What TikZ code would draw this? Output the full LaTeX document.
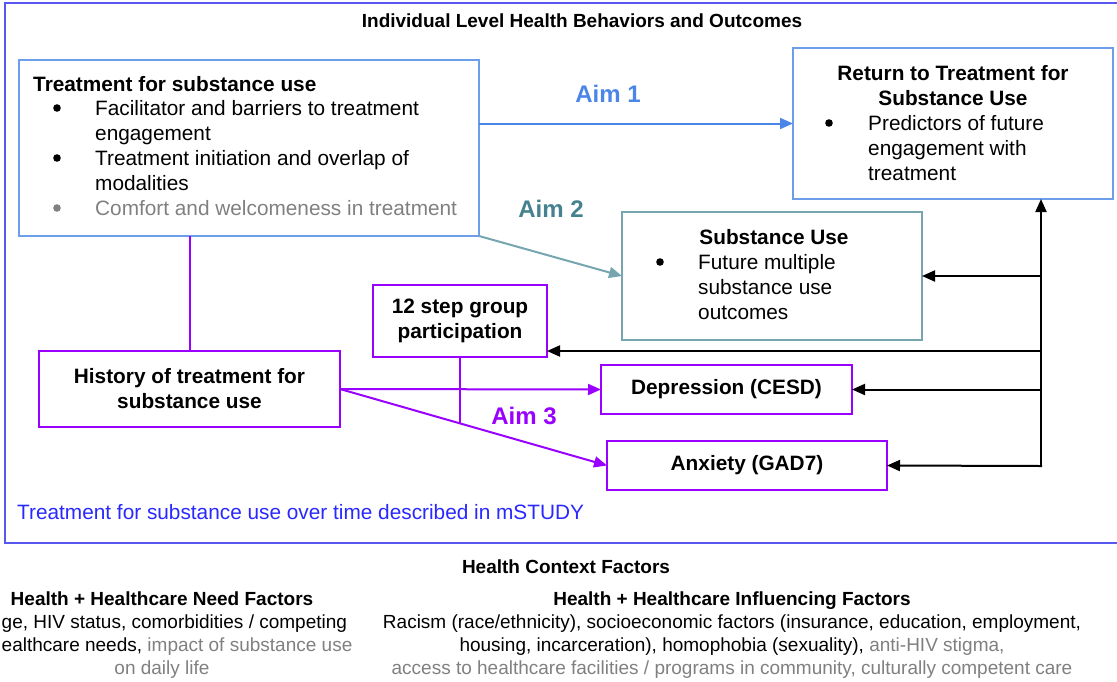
\documentclass[tikz,border=0pt]{standalone}
\usepackage{fontspec}
\setmainfont{Liberation Sans}
\usetikzlibrary{arrows.meta,calc}
\definecolor{frameblue}{RGB}{88,88,240}
\definecolor{boxblue}{RGB}{109,158,235}
\definecolor{aimblue}{RGB}{74,134,232}
\definecolor{tealline}{RGB}{118,165,175}
\definecolor{tealtext}{RGB}{69,129,142}
\definecolor{purp}{RGB}{153,0,255}
\definecolor{textblue}{RGB}{40,40,255}
\definecolor{greytext}{RGB}{128,128,128}
\begin{document}
\begin{tikzpicture}[x=1pt,y=-1pt,
  box/.style={draw, line width=1.3pt, inner sep=0pt, outer sep=0pt},
  boxtxt/.style={font=\fontsize{20.8}{25}\selectfont\bfseries, align=center},
  txt/.style={font=\fontsize{20.8}{25}\selectfont, anchor=base west, inner sep=0pt},
  ttl/.style={font=\fontsize{20.8}{25}\selectfont\bfseries, anchor=base, inner sep=0pt},
  head/.style={font=\fontsize{19}{23}\selectfont\bfseries, anchor=base, inner sep=0pt},
  foot/.style={font=\fontsize{19}{23}\selectfont, inner sep=0pt},
  aim/.style={font=\fontsize{24}{28}\selectfont\bfseries, inner sep=0pt},
  arr/.style={-{Triangle[length=13pt,width=11pt]}, line width=2pt},
  link/.style={line width=2pt},
  bul/.style={radius=3.8pt}
]
\useasboundingbox (0,0) rectangle (1117,681);

% outer frame
\draw[frameblue, line width=1.5pt] (5,3) rectangle (1130,543);
\node[head] (t1) at (582,27) {Individual Level Health Behaviors and Outcomes};

% Box A
\node[box, draw=boxblue, minimum width=460pt, minimum height=176pt] (A) at (249,148) {};
\node[txt, font=\fontsize{20.8}{25}\selectfont\bfseries] (a0) at (33,91) {Treatment for substance use};
\fill (57,108) circle[bul];
\node[txt] (a1) at (95,115) {Facilitator and barriers to treatment};
\node[txt] (a2) at (95,140) {engagement};
\fill (57,158) circle[bul];
\node[txt] (a3) at (95,165) {Treatment initiation and overlap of};
\node[txt] (a4) at (95,190) {modalities};
\fill[greytext] (57,208) circle[bul];
\node[txt, text=greytext] (a5) at (95,215) {Comfort and welcomeness in treatment};

% Box B
\node[box, draw=boxblue, minimum width=320pt, minimum height=151pt] (B) at (953,123.5) {};
\node[ttl] (b0) at (953,80) {Return to Treatment for};
\node[ttl] (b1) at (953,105) {Substance Use};
\fill (829,123) circle[bul];
\node[txt] (b2) at (868,130) {Predictors of future};
\node[txt] (b3) at (868,155) {engagement with};
\node[txt] (b4) at (868,180) {treatment};

% Box C
\node[box, draw=tealline, minimum width=300pt, minimum height=128pt] (C) at (772,276) {};
\node[ttl] (c0) at (774,244) {Substance Use};
\fill (660,262) circle[bul];
\node[txt] (c1) at (698,269) {Future multiple};
\node[txt] (c2) at (698,294) {substance use};
\node[txt] (c3) at (698,319) {outcomes};

% Purple boxes
\node[box, draw=purp, boxtxt, minimum width=174pt, minimum height=72pt] (D) at (460,321) {12 step group\\participation};
\node[box, draw=purp, boxtxt, minimum width=301pt, minimum height=76pt] (E) at (189.5,389) {History of treatment for\\substance use};
\node[box, draw=purp, boxtxt, minimum width=251pt, minimum height=49pt] (F) at (726.5,389.5) {Depression (CESD)};
\node[box, draw=purp, boxtxt, minimum width=280pt, minimum height=49pt] (G) at (747,465.5) {Anxiety (GAD7)};

% Aim labels
\node[aim, text=aimblue] (aim1) at (608,94) {Aim 1};
\node[aim, text=tealtext] (aim2) at (551,209) {Aim 2};
\node[aim, text=purp] (aim3) at (524,416) {Aim 3};

% connectors
\draw[arr, aimblue] (A.east |- B.west) -- (B.west);
\draw[arr, tealline] (A.south east) -- (C.west);
\draw[link, draw=purp] (E.north) -- (E.north |- A.south);
\draw[arr, purp] (E.east) -- (F.west);
\draw[arr, purp] (E.east) -- (G.west);
\coordinate (dj) at ($(E.east)!0.4494!(G.west)$);
\draw[link, draw=purp] (D.south) -- (D.south |- dj);

% black feedback bus
\coordinate (bus) at (1041,466);
\coordinate (dIn) at ($(D.south east)+(0,-6)$);
\draw[arr, black] (bus) -- (bus |- B.south);
\draw[arr, black, line cap=rect] (bus) -- (G.east);
\draw[arr, black] (bus |- F.east) -- (F.east);
\draw[arr, black] (bus |- C.east) -- (C.east);
\draw[arr, black] (bus |- dIn) -- (dIn);

% blue note
\node[font=\fontsize{20.8}{25}\selectfont, text=textblue, anchor=base west, inner sep=0pt] (note) at (17,519) {Treatment for substance use over time described in mSTUDY};

% bottom
\node[head] (h0) at (566,573) {Health Context Factors};
\node[head] (h1) at (162,605) {Health + Healthcare Need Factors};
\node[foot, anchor=base west] (h1a) at (1.5,628) {ge, HIV status, comorbidities / competing};
\node[foot, anchor=base west] (h1b) at (1.5,651) {ealthcare needs, \textcolor{greytext}{impact of substance use}};
\node[foot, anchor=base, text=greytext] (h1c) at (162,674) {on daily life};

\node[head] (h2) at (732,605) {Health + Healthcare Influencing Factors};
\node[foot, anchor=base] (h2a) at (732,628) {Racism (race/ethnicity), socioeconomic factors (insurance, education, employment,};
\node[foot, anchor=base] (h2b) at (732,651) {housing, incarceration), homophobia (sexuality), \textcolor{greytext}{anti-HIV stigma,}};
\node[foot, anchor=base, text=greytext] (h2c) at (732,674) {access to healthcare facilities / programs in community, culturally competent care};
\end{tikzpicture}
\end{document}
